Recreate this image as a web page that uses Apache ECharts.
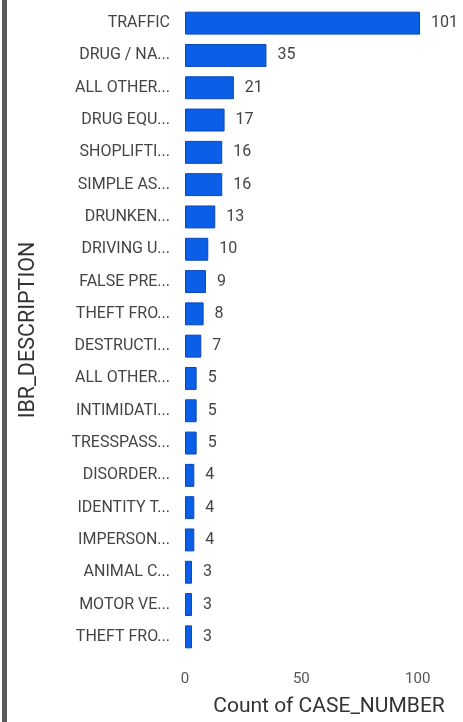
<!DOCTYPE html>
<html><head><meta charset="utf-8">
<script src="https://cdn.jsdelivr.net/npm/echarts@6/dist/echarts.min.js"></script>
<style>
html,body{margin:0;padding:0;background:#fff;}
#wrap{position:relative;width:463px;height:722px;overflow:hidden;}
#edge{position:absolute;left:2px;top:0;width:5px;height:722px;background:#5a5a5a;}
#chart{position:absolute;left:0;top:0;width:463px;height:722px;}
</style></head>
<body><div id="wrap"><div id="edge"></div><div id="chart"></div></div>
<script>
const categories = ["TRAFFIC","DRUG / NA...","ALL OTHER...","DRUG EQU...","SHOPLIFTI...","SIMPLE AS...","DRUNKEN...","DRIVING U...","FALSE PRE...","THEFT FRO...","DESTRUCTI...","ALL OTHER...","INTIMIDATI...","TRESSPASS...","DISORDER...","IDENTITY T...","IMPERSON...","ANIMAL C...","MOTOR VE...","THEFT FRO..."];
const counts = [101,35,21,17,16,16,13,10,9,8,7,5,5,5,4,4,4,3,3,3];
const xTicks = [0,50,100];

const chart = echarts.init(document.getElementById('chart'), null, {renderer:'canvas'});
const font = "Roboto, 'Noto Sans', sans-serif";
chart.setOption({
  animation:false,
  grid:{left:185, right:22, top:7, bottom:66, containLabel:false},
  xAxis:{
    type:'value', min:0, max:110, interval:50,
    splitLine:{show:false}, axisLine:{show:false}, axisTick:{show:false},
    axisLabel:{color:'#555', fontSize:15, fontFamily:font, margin:19,
      formatter:v => xTicks.includes(v) ? String(v) : ''},
    name:'Count of CASE_NUMBER', nameLocation:'middle', nameGap:43,
    nameTextStyle:{color:'#333', fontSize:21, fontFamily:font, padding:[0,0,0,32]}
  },
  yAxis:{
    type:'category', data:categories, inverse:true,
    axisLine:{show:false}, axisTick:{show:false},
    axisLabel:{color:'#444', fontSize:16, fontFamily:font, margin:15},
    name:'IBR_DESCRIPTION', nameLocation:'middle', nameGap:145,
    nameTextStyle:{color:'#333', fontSize:21.5, fontFamily:font}
  },
  series:[{
    type:'bar', data:counts, barCategoryGap:'29%',
    itemStyle:{color:'#0b5ee6', borderColor:'#0a47b8', borderWidth:1},
    label:{show:true, position:'right', distance:11, color:'#444', fontSize:16, fontFamily:font}
  }]
});
</script></body></html>
